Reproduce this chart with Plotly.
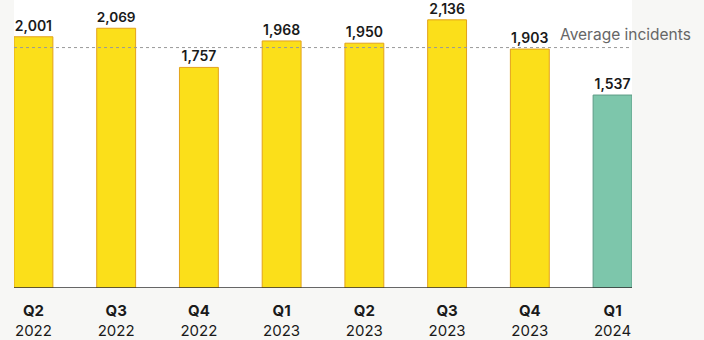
import plotly.graph_objects as go

quarters = ["Q2", "Q3", "Q4", "Q1", "Q2", "Q3", "Q4", "Q1"]
years = ["2022", "2022", "2022", "2023", "2023", "2023", "2023", "2024"]
incidents = [2001, 2069, 1757, 1968, 1950, 2136, 1903, 1537]
bar_colors = ["#FBDF1A"] * 7 + ["#7DC6AB"]
line_colors = ["#E3A21A"] * 7 + ["#5E9C86"]
avg_label = "Average incidents"

avg = sum(incidents) / len(incidents)
x = list(range(len(incidents)))
ticktext = [f"<b>{q}</b><br>{y}" for q, y in zip(quarters, years)]
labels = [f"{v:,}" for v in incidents]

fig = go.Figure()
fig.add_trace(go.Bar(
    x=x, y=incidents, width=0.47,
    marker=dict(color=bar_colors, line=dict(color=line_colors, width=1)),
    text=labels, textposition="outside", cliponaxis=False,
    textfont=dict(family="Inter", size=14, color="#1a1a1a", weight=600),
    showlegend=False, hoverinfo="skip",
))
fig.add_shape(type="line", xref="paper", yref="y", x0=0, x1=1, y0=avg, y1=avg,
              line=dict(color="#999999", width=1, dash="dot"), layer="above")
fig.add_annotation(xref="paper", yref="y", x=1.0, y=avg, xanchor="left", yanchor="bottom",
                   xshift=-74, yshift=2, text=avg_label, showarrow=False,
                   font=dict(family="Inter", size=15.5, color="#666666"))

fig.update_layout(
    width=704, height=340,
    margin=dict(l=14, r=72, t=0, b=50),
    paper_bgcolor="#F7F7F5", plot_bgcolor="#FFFFFF",
    xaxis=dict(tickmode="array", tickvals=x, ticktext=ticktext, range=[-0.235, 7.235],
               showgrid=False, zeroline=False, showline=False, ticks="",
               ticklabelstandoff=12,
               tickfont=dict(family="Inter", size=15, color="#1a1a1a")),
    yaxis=dict(range=[0, 2294], visible=False, showgrid=False, zeroline=False),
    bargap=0.5,
)
fig.add_shape(type="line", xref="paper", yref="y", x0=0, x1=1, y0=0, y1=0,
              line=dict(color="#333333", width=1.5), layer="above")
fig.write_html("out.html")
